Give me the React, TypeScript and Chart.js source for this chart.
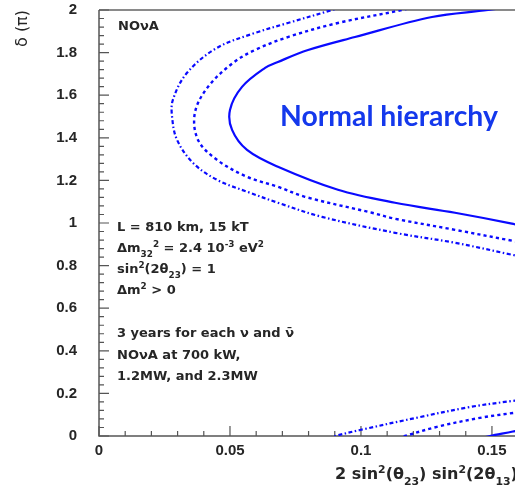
import { useEffect, useRef } from 'react';
import { Chart, registerables } from 'chart.js';

Chart.register(...registerables);

// ---------- data ----------
const xTickValues = [0, 0.05, 0.1, 0.15];
const yTickValues = [0, 0.2, 0.4, 0.6, 0.8, 1, 1.2, 1.4, 1.6, 1.8, 2];
const xMax = 0.1588;
const yMax = 2;

// solid contour (upper lobe)
const solidUpperX = [0.165, 0.1485, 0.1271, 0.0977, 0.0798, 0.0683, 0.0634, 0.0546, 0.05, 0.0508, 0.0565, 0.0683, 0.0912, 0.113, 0.1359, 0.1576, 0.165];
const solidUpperY = [2.03, 2.0, 1.967, 1.873, 1.812, 1.756, 1.728, 1.639, 1.531, 1.437, 1.343, 1.264, 1.156, 1.095, 1.048, 0.997, 0.975];
// solid contour (lower piece)
const solidLowerX = [0.146, 0.1492, 0.158, 0.165];
const solidLowerY = [-0.01, 0.0, 0.021, 0.04];

// dotted contour
const dottedUpperX = [0.125, 0.1156, 0.0912, 0.0721, 0.0595, 0.0511, 0.0416, 0.0366, 0.0378, 0.045, 0.0565, 0.0683, 0.0786, 0.1042, 0.113, 0.1359, 0.1576, 0.165];
const dottedUpperY = [2.03, 2.0, 1.939, 1.873, 1.812, 1.751, 1.639, 1.517, 1.39, 1.297, 1.217, 1.17, 1.123, 1.048, 1.02, 0.968, 0.917, 0.9];
const dottedLowerX = [0.114, 0.1168, 0.129, 0.1454, 0.158, 0.165];
const dottedLowerY = [-0.01, 0.0, 0.043, 0.085, 0.108, 0.118];

// dash-dot contour
const dashDotUpperX = [0.096, 0.0889, 0.0721, 0.0595, 0.045, 0.0336, 0.0282, 0.0279, 0.0298, 0.0359, 0.045, 0.0576, 0.0683, 0.0851, 0.113, 0.1359, 0.1576, 0.165];
const dashDotUpperY = [2.03, 2.0, 1.939, 1.892, 1.822, 1.705, 1.578, 1.498, 1.39, 1.282, 1.203, 1.142, 1.095, 1.029, 0.954, 0.907, 0.851, 0.83];
const dashDotLowerX = [0.0875, 0.0901, 0.0996, 0.1225, 0.1416, 0.158, 0.165];
const dashDotLowerY = [-0.01, 0.0, 0.028, 0.089, 0.136, 0.165, 0.175];

// ---------- text ----------
type Seg = [string, number]; // 0 normal, 1 superscript, -1 subscript
const experimentLabel = 'NOνA';
const hierarchyLabel = 'Normal hierarchy';
const yAxisTitle = 'δ (π)';
const xAxisTitle: Seg[] = [['2 sin', 0], ['2', 1], ['(θ', 0], ['23', -1], [') sin', 0], ['2', 1], ['(2θ', 0], ['13', -1], [')', 0]];
const infoLines: Seg[][] = [
  [['L = 810 km, 15 kT', 0]],
  [['Δm', 0], ['32', -1], ['2', 1], [' = 2.4 10', 0], ['-3', 1], [' eV', 0], ['2', 1]],
  [['sin', 0], ['2', 1], ['(2θ', 0], ['23', -1], [') = 1', 0]],
  [['Δm', 0], ['2', 1], [' > 0', 0]],
  [['3 years for each ν and ν̄', 0]],
  [['NOνA at 700 kW,', 0]],
  [['1.2MW, and 2.3MW', 0]],
];

const toPts = (xs: number[], ys: number[]) => xs.map((x, i) => ({ x, y: ys[i] }));
const fmt = (v: number) => String(parseFloat(Number(v).toFixed(2)));

const BLUE = '#0a0aff';
const TEXT = '#262626';

function drawRich(ctx: CanvasRenderingContext2D, segs: Seg[], x: number, y: number, size: number, family: string, weight: string) {
  let cx = x;
  for (const [t, k] of segs) {
    const s = k === 0 ? size : size * 0.68;
    ctx.font = `${weight} ${s}px ${family}`;
    const dy = k === 1 ? -size * 0.36 : k === -1 ? size * 0.38 : 0;
    ctx.fillText(t, cx, y + dy);
    cx += ctx.measureText(t).width;
  }
}

const rootPlugin = {
  id: 'rootDecor',
  beforeDatasetsDraw(chart: any) {
    const { ctx, chartArea: a, scales } = chart;
    const xs = scales.x;
    const ys = scales.y;
    ctx.save();
    // top frame
    ctx.strokeStyle = '#8a8a8a';
    ctx.lineWidth = 2;
    ctx.beginPath();
    ctx.moveTo(a.left, a.top);
    ctx.lineTo(a.right + 5, a.top);
    ctx.stroke();
    // axes
    ctx.strokeStyle = '#555';
    ctx.lineWidth = 1.5;
    ctx.beginPath();
    ctx.moveTo(a.left, a.top);
    ctx.lineTo(a.left, a.bottom);
    ctx.lineTo(a.right + 5, a.bottom);
    ctx.stroke();
    // inward ticks
    ctx.lineWidth = 1.2;
    ctx.beginPath();
    for (let i = 0; i <= 15; i++) {
      const px = xs.getPixelForValue(i * 0.01);
      const len = i % 5 === 0 ? 10 : 5;
      ctx.moveTo(px, a.bottom);
      ctx.lineTo(px, a.bottom - len);
    }
    for (let i = 0; i <= 50; i++) {
      const py = ys.getPixelForValue(i * 0.04);
      const len = i % 5 === 0 ? 10 : 5;
      ctx.moveTo(a.left, py);
      ctx.lineTo(a.left + len, py);
    }
    ctx.stroke();
    ctx.restore();
  },
  afterDraw(chart: any) {
    const { ctx } = chart;
    ctx.save();
    ctx.fillStyle = TEXT;
    ctx.textBaseline = 'alphabetic';
    ctx.textAlign = 'left';
    const fam = '"DejaVu Sans"';
    // experiment label
    ctx.font = `bold 13px ${fam}`;
    ctx.fillText(experimentLabel, 118, 30);
    // info lines
    const baselines = [231, 252, 273, 294, 337, 359, 380];
    infoLines.forEach((segs, i) => drawRich(ctx, segs, 117, baselines[i], 13, fam, 'bold'));
    // x axis title
    drawRich(ctx, xAxisTitle, 335, 479, 16, fam, 'bold');
    // y axis title
    ctx.save();
    ctx.translate(23, 10);
    ctx.rotate(-Math.PI / 2);
    ctx.textAlign = 'right';
    ctx.textBaseline = 'middle';
    ctx.font = `16px ${fam}`;
    ctx.fillText(yAxisTitle, 0, 0);
    ctx.restore();
    // hierarchy label
    ctx.fillStyle = '#1438ec';
    ctx.font = 'bold 26px Lato';
    const w = ctx.measureText(hierarchyLabel).width;
    const size = 26 * 218 / w;
    ctx.font = `bold ${size}px Lato`;
    ctx.fillText(hierarchyLabel, 280, 126);
    ctx.restore();
  },
};

function makeSet(xs: number[], ys: number[], dash: number[], width: number) {
  return {
    data: toPts(xs, ys),
    showLine: true,
    borderColor: BLUE,
    backgroundColor: BLUE,
    borderWidth: width,
    borderDash: dash,
    pointRadius: 0,
    tension: 0.35,
    fill: false,
  };
}

export default function App() {
  const ref = useRef<HTMLCanvasElement | null>(null);
  useEffect(() => {
    if (!ref.current) return;
    const tickFont = { family: '"Liberation Sans"', weight: 'bold' as const, size: 15 };
    const chart = new Chart(ref.current, {
      type: 'scatter',
      data: {
        datasets: [
          makeSet(dashDotUpperX, dashDotUpperY, [4, 2.5, 1.5, 2.5], 2.2),
          makeSet(dashDotLowerX, dashDotLowerY, [4, 2.5, 1.5, 2.5], 2.2),
          makeSet(dottedUpperX, dottedUpperY, [3.2, 3.2], 2.4),
          makeSet(dottedLowerX, dottedLowerY, [3.2, 3.2], 2.4),
          makeSet(solidUpperX, solidUpperY, [], 2.2),
          makeSet(solidLowerX, solidLowerY, [], 2.2),
        ] as any,
      },
      options: {
        responsive: false,
        animation: false,
        devicePixelRatio: 1,
        layout: { padding: { top: 10, left: 0, right: 0, bottom: 0 } },
        plugins: { legend: { display: false }, tooltip: { enabled: false } },
        scales: {
          x: {
            type: 'linear',
            min: 0,
            max: xMax,
            grid: { display: false, drawTicks: false, tickLength: 0 },
            border: { display: false },
            ticks: { font: tickFont, color: TEXT, padding: 6, maxRotation: 0, autoSkip: false, callback: (v: any) => fmt(v) },
            afterBuildTicks: (s: any) => { s.ticks = xTickValues.map((value) => ({ value })); },
            afterFit: (s: any) => { s.height = 52; s.paddingLeft = 0; s.paddingRight = 0; s.paddingTop = 0; s.paddingBottom = 0; },
          },
          y: {
            type: 'linear',
            min: 0,
            max: yMax,
            grid: { display: false, drawTicks: false, tickLength: 0 },
            border: { display: false },
            ticks: { font: tickFont, color: TEXT, padding: 22, autoSkip: false, callback: (v: any) => fmt(v) },
            afterBuildTicks: (s: any) => { s.ticks = yTickValues.map((value) => ({ value })); },
            afterFit: (s: any) => { s.width = 99; s.paddingLeft = 0; s.paddingRight = 0; s.paddingTop = 0; s.paddingBottom = 0; },
          },
        },
      } as any,
      plugins: [rootPlugin],
    });
    return () => chart.destroy();
  }, []);
  return (
    <div style={{ position: 'absolute', left: 0, top: 0, width: 515, height: 488, background: '#fff' }}>
      <canvas ref={ref} width={515} height={488} style={{ width: 515, height: 488, display: 'block' }} />
    </div>
  );
}
